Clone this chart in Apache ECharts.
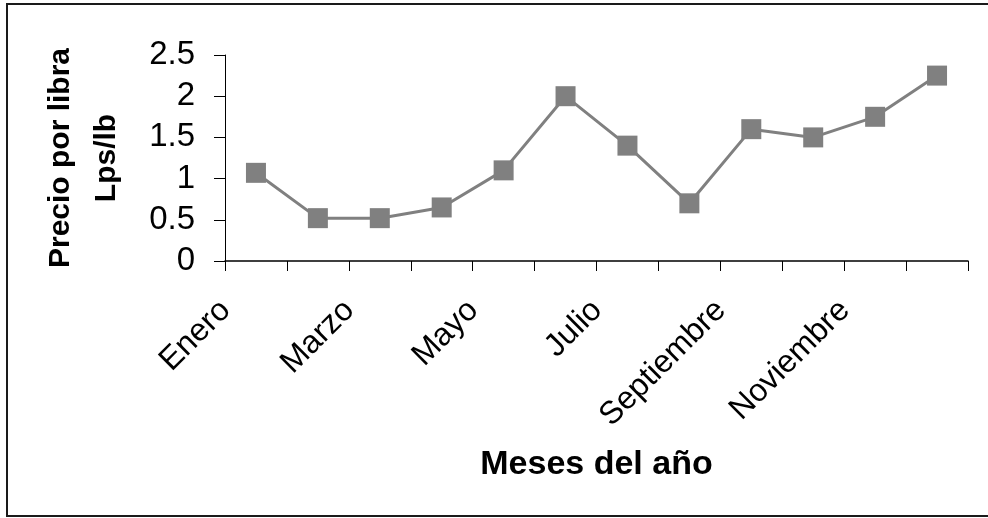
<!DOCTYPE html>
<html>
<head>
<meta charset="utf-8">
<script src="https://cdn.jsdelivr.net/npm/echarts@6/dist/echarts.min.js"></script>
<style>
  html, body { margin: 0; padding: 0; background: #fff; }
  #chart { width: 988px; height: 518px; }
</style>
</head>
<body>
<div id="chart"></div>
<script>
// Monthly price per pound (Lps/lb)
const months = ['Enero', 'Febrero', 'Marzo', 'Abril', 'Mayo', 'Junio',
                'Julio', 'Agosto', 'Septiembre', 'Octubre', 'Noviembre', 'Diciembre'];
const prices = [1.07, 0.52, 0.52, 0.65, 1.10, 2.00, 1.40, 0.70, 1.60, 1.50, 1.75, 2.25];
const yTicks = { min: 0, max: 2.5, step: 0.5 };

const chart = echarts.init(document.getElementById('chart'), null, { renderer: 'canvas' });
const font = 'Liberation Sans, Arial, sans-serif';

chart.setOption({
  backgroundColor: '#fff',
  animation: false,
  graphic: [{
    type: 'rect',
    shape: { x: 7, y: 4, width: 1000, height: 512 },
    style: { fill: 'none', stroke: '#1a1a1a', lineWidth: 2 },
    silent: true
  }],
  grid: { left: 225, right: 20, top: 55, bottom: 257, containLabel: false, outerBoundsMode: 'none' },
  xAxis: {
    type: 'category',
    data: months,
    boundaryGap: true,
    axisLine: { lineStyle: { color: '#000', width: 1.5 } },
    axisTick: { show: true, interval: 0, length: 10, lineStyle: { color: '#000', width: 1 } },
    axisLabel: {
      interval: 1,
      rotate: 45,
      margin: 14,
      padding: [0, 43, 0, 0],
      fontFamily: font,
      fontSize: 32,
      color: '#000'
    },
    name: 'Meses del año',
    nameLocation: 'middle',
    nameGap: 187,
    nameTextStyle: { fontFamily: font, fontSize: 34, fontWeight: 'bold', color: '#000' }
  },
  yAxis: {
    type: 'value',
    min: yTicks.min,
    max: yTicks.max,
    interval: yTicks.step,
    splitLine: { show: false },
    axisLine: { show: true, lineStyle: { color: '#000', width: 1 } },
    axisTick: { show: true, length: 11, lineStyle: { color: '#000', width: 1 } },
    axisLabel: {
      margin: 30,
      fontFamily: font,
      fontSize: 33,
      color: '#000'
    },
    name: 'Precio por libra\nLps/lb',
    nameLocation: 'middle',
    nameGap: 95,
    nameRotate: 90,
    nameTextStyle: { fontFamily: font, fontSize: 30, fontWeight: 'bold', color: '#000', lineHeight: 46, align: 'center' }
  },
  series: [{
    type: 'line',
    data: prices,
    symbol: 'rect',
    symbolSize: 20,
    itemStyle: { color: '#808080' },
    lineStyle: { color: '#808080', width: 3 }
  }]
});
</script>
</body>
</html>
